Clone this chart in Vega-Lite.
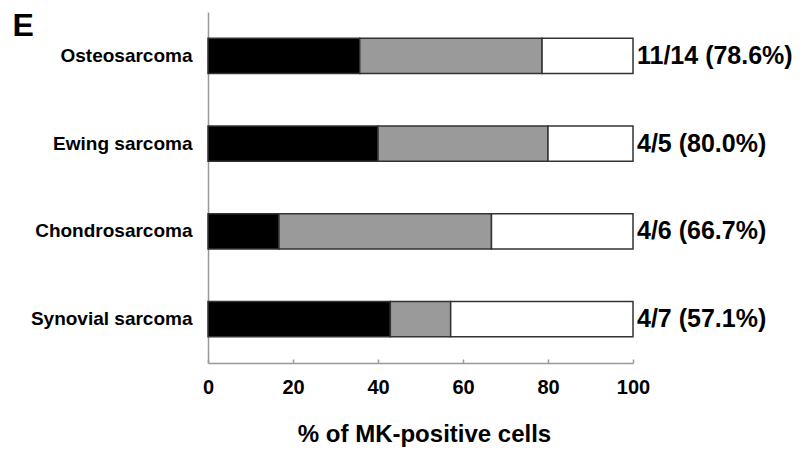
{
  "$schema": "https://vega.github.io/schema/vega-lite/v6.json",
  "width": 425,
  "height": 351,
  "autosize": {"type": "none"},
  "padding": {"left": 208, "top": 12, "right": 174, "bottom": 90},
  "background": "white",
  "config": {"view": {"stroke": null}, "font": "Liberation Sans"},
  "datasets": {
    "segments": [
      {"tumor": "Osteosarcoma", "level": "strong", "rank": 1, "pct": 35.7},
      {"tumor": "Osteosarcoma", "level": "weak", "rank": 2, "pct": 42.9},
      {"tumor": "Osteosarcoma", "level": "negative", "rank": 3, "pct": 21.4},
      {"tumor": "Ewing sarcoma", "level": "strong", "rank": 1, "pct": 40.0},
      {"tumor": "Ewing sarcoma", "level": "weak", "rank": 2, "pct": 40.0},
      {"tumor": "Ewing sarcoma", "level": "negative", "rank": 3, "pct": 20.0},
      {"tumor": "Chondrosarcoma", "level": "strong", "rank": 1, "pct": 16.7},
      {"tumor": "Chondrosarcoma", "level": "weak", "rank": 2, "pct": 50.0},
      {"tumor": "Chondrosarcoma", "level": "negative", "rank": 3, "pct": 33.3},
      {"tumor": "Synovial sarcoma", "level": "strong", "rank": 1, "pct": 42.9},
      {"tumor": "Synovial sarcoma", "level": "weak", "rank": 2, "pct": 14.2},
      {"tumor": "Synovial sarcoma", "level": "negative", "rank": 3, "pct": 42.9}
    ],
    "labels": [
      {"tumor": "Osteosarcoma", "label": "11/14 (78.6%)"},
      {"tumor": "Ewing sarcoma", "label": "4/5 (80.0%)"},
      {"tumor": "Chondrosarcoma", "label": "4/6 (66.7%)"},
      {"tumor": "Synovial sarcoma", "label": "4/7 (57.1%)"}
    ]
  },
  "layer": [
    {
      "data": {"name": "segments"},
      "mark": {"type": "bar", "stroke": "#333333", "strokeWidth": 1.5},
      "encoding": {
        "y": {
          "field": "tumor",
          "type": "nominal",
          "sort": ["Osteosarcoma", "Ewing sarcoma", "Chondrosarcoma", "Synovial sarcoma"],
          "scale": {"paddingInner": 0.6, "paddingOuter": 0.3},
          "axis": {
            "title": "E",
            "titleAngle": 0,
            "titleAlign": "left",
            "titleBaseline": "alphabetic",
            "titleX": -196,
            "titleY": 23,
            "titleFontSize": 32,
            "titleFontWeight": "bold",
            "titleColor": "black",
            "ticks": false,
            "labelPadding": 16,
            "labelFontSize": 19,
            "labelFontWeight": "bold",
            "labelColor": "black",
            "domainColor": "#999999",
            "domainWidth": 1.5,
            "grid": false
          }
        },
        "x": {
          "field": "pct",
          "type": "quantitative",
          "stack": "zero",
          "scale": {"domain": [0, 100], "nice": false},
          "axis": {
            "title": "% of MK-positive cells",
            "titleFontSize": 24,
            "titleFontWeight": "bold",
            "titleColor": "black",
            "titleBaseline": "alphabetic",
            "titleY": 78,
            "titleX": 216,
            "values": [0, 20, 40, 60, 80, 100],
            "tickSize": -4,
            "tickColor": "#999999",
            "tickWidth": 1.5,
            "domainColor": "#999999",
            "domainWidth": 1.5,
            "labelFontSize": 20,
            "labelFontWeight": "bold",
            "labelColor": "black",
            "labelBaseline": "alphabetic",
            "labelPadding": 34,
            "labelFlush": false,
            "grid": false
          }
        },
        "color": {
          "field": "level",
          "type": "nominal",
          "scale": {"domain": ["strong", "weak", "negative"], "range": ["#000000", "#9a9a9a", "#ffffff"]},
          "legend": null
        },
        "order": {"field": "rank", "type": "quantitative"}
      }
    },
    {
      "data": {"name": "labels"},
      "mark": {"type": "text", "align": "left", "baseline": "middle", "dx": 4, "fontSize": 25, "fontWeight": "bold", "color": "black"},
      "encoding": {
        "y": {"field": "tumor", "type": "nominal", "sort": ["Osteosarcoma", "Ewing sarcoma", "Chondrosarcoma", "Synovial sarcoma"]},
        "x": {"datum": 100},
        "text": {"field": "label"}
      }
    }
  ]
}
